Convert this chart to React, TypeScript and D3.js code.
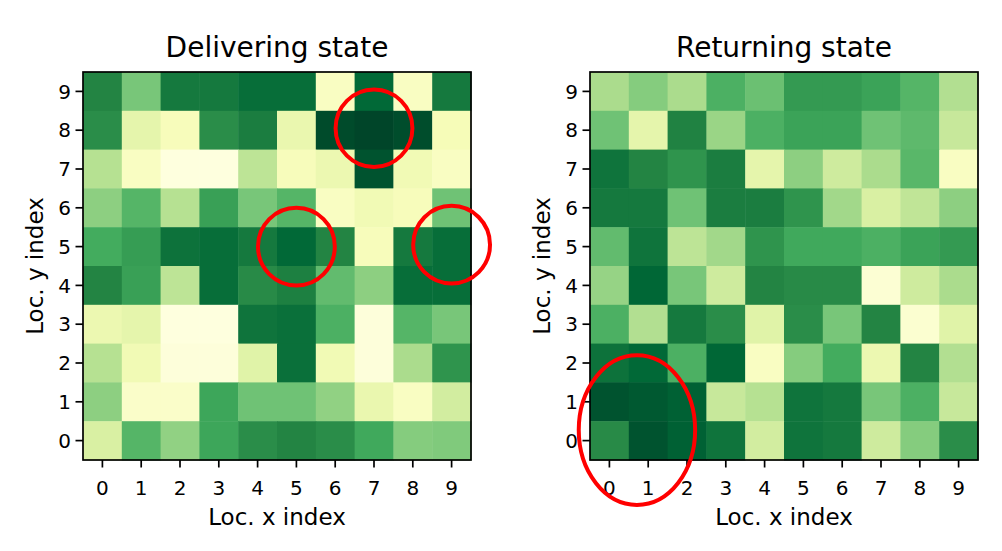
import React from "react";
import * as d3 from "d3";

const xIndex = [0, 1, 2, 3, 4, 5, 6, 7, 8, 9];
const yIndex = [0, 1, 2, 3, 4, 5, 6, 7, 8, 9];

// rows listed from y=9 (top) to y=0 (bottom); columns x=0..9
const deliveringRows = [
  [0.75, 0.5, 0.8, 0.8, 0.85, 0.85, 0.1, 0.87, 0.1, 0.8],
  [0.72, 0.2, 0.12, 0.72, 0.78, 0.18, 0.98, 1.0, 0.97, 0.13],
  [0.35, 0.1, 0.02, 0.02, 0.33, 0.12, 0.17, 0.95, 0.15, 0.1],
  [0.45, 0.58, 0.35, 0.66, 0.5, 0.58, 0.1, 0.15, 0.12, 0.52],
  [0.62, 0.67, 0.83, 0.85, 0.8, 0.87, 0.75, 0.12, 0.8, 0.85],
  [0.75, 0.66, 0.33, 0.85, 0.73, 0.77, 0.55, 0.45, 0.85, 0.85],
  [0.17, 0.2, 0.02, 0.02, 0.82, 0.84, 0.6, 0.03, 0.58, 0.5],
  [0.35, 0.15, 0.03, 0.03, 0.22, 0.84, 0.15, 0.03, 0.38, 0.7],
  [0.45, 0.08, 0.08, 0.64, 0.52, 0.52, 0.44, 0.18, 0.1, 0.27],
  [0.25, 0.58, 0.44, 0.64, 0.72, 0.75, 0.72, 0.63, 0.47, 0.48],
];

const returningRows = [
  [0.38, 0.47, 0.38, 0.6, 0.53, 0.68, 0.68, 0.65, 0.58, 0.36],
  [0.52, 0.2, 0.76, 0.42, 0.6, 0.65, 0.65, 0.52, 0.56, 0.3],
  [0.82, 0.75, 0.7, 0.78, 0.2, 0.45, 0.28, 0.38, 0.57, 0.1],
  [0.8, 0.8, 0.52, 0.78, 0.78, 0.7, 0.4, 0.25, 0.32, 0.45],
  [0.55, 0.82, 0.33, 0.4, 0.7, 0.63, 0.63, 0.6, 0.65, 0.68],
  [0.43, 0.88, 0.5, 0.28, 0.75, 0.73, 0.73, 0.05, 0.28, 0.38],
  [0.6, 0.36, 0.8, 0.72, 0.22, 0.72, 0.5, 0.75, 0.06, 0.22],
  [0.83, 0.87, 0.6, 0.88, 0.1, 0.47, 0.62, 0.17, 0.75, 0.36],
  [0.95, 0.93, 0.9, 0.3, 0.35, 0.82, 0.8, 0.5, 0.6, 0.3],
  [0.73, 0.95, 0.9, 0.82, 0.27, 0.82, 0.8, 0.28, 0.47, 0.72],
];

// highlighted locations (data coords: x index, y index, radius in cells x, y)
const deliveringMarks = [
  { x: 7, y: 8.05, rx: 0.99, ry: 1.0 },
  { x: 5, y: 5, rx: 0.99, ry: 1.0 },
  { x: 9, y: 5.05, rx: 0.99, ry: 1.0 },
];
const returningMarks = [{ x: 0.71, y: 0.27, rx: 1.5, ry: 1.93 }];

const titles = ["Delivering state", "Returning state"];

const ylgnStops = [
  "#ffffe5", "#f7fcb9", "#d9f0a3", "#addd8e", "#78c679",
  "#41ab5d", "#238443", "#006837", "#004529",
];

const FONT = "DejaVu Sans, sans-serif";

const color = d3
  .scaleLinear<string>()
  .domain(d3.range(ylgnStops.length).map((i) => i / (ylgnStops.length - 1)))
  .range(ylgnStops)
  .interpolate(d3.interpolateRgb)
  .clamp(true);

type Mark = { x: number; y: number; rx: number; ry: number };

function Panel({
  left,
  title,
  rows,
  marks,
}: {
  left: number;
  title: string;
  rows: number[][];
  marks: Mark[];
}) {
  const top = 72;
  const size = 388;
  const x = d3.scaleBand<number>().domain(xIndex).range([left, left + size]);
  const y = d3
    .scaleBand<number>()
    .domain([...yIndex].reverse())
    .range([top, top + size]);
  const xc = d3.scaleLinear().domain([-0.5, 9.5]).range([left, left + size]);
  const yc = d3.scaleLinear().domain([-0.5, 9.5]).range([top + size, top]);
  const cell = x.bandwidth();
  const cx = left + size / 2;
  return (
    <g>
      {rows.map((row, ri) =>
        row.map((v, xi) => {
          const yi = 9 - ri;
          return (
            <rect
              key={`${ri}-${xi}`}
              x={x(xi)}
              y={y(yi)}
              width={cell + 0.5}
              height={cell + 0.5}
              fill={color(v)}
            />
          );
        })
      )}
      <rect
        x={left}
        y={top}
        width={size}
        height={size}
        fill="none"
        stroke="#000"
        strokeWidth={1.7}
      />
      {xIndex.map((t) => (
        <g key={`xt${t}`}>
          <line
            x1={x(t)! + cell / 2}
            x2={x(t)! + cell / 2}
            y1={top + size}
            y2={top + size + 7.5}
            stroke="#000"
            strokeWidth={1.7}
          />
          <text
            x={x(t)! + cell / 2}
            y={495}
            textAnchor="middle"
            fontFamily={FONT}
            fontSize={20}
            fill="#000"
          >
            {t}
          </text>
        </g>
      ))}
      {yIndex.map((t) => (
        <g key={`yt${t}`}>
          <line
            x1={left - 7.5}
            x2={left}
            y1={y(t)! + cell / 2}
            y2={y(t)! + cell / 2}
            stroke="#000"
            strokeWidth={1.7}
          />
          <text
            x={left - 12}
            y={y(t)! + cell / 2}
            dy="0.36em"
            textAnchor="end"
            fontFamily={FONT}
            fontSize={20}
            fill="#000"
          >
            {t}
          </text>
        </g>
      ))}
      <text
        x={cx}
        y={57}
        textAnchor="middle"
        fontFamily={FONT}
        fontSize={28}
        fill="#000"
      >
        {title}
      </text>
      <text
        x={cx}
        y={525}
        textAnchor="middle"
        fontFamily={FONT}
        fontSize={23}
        fill="#000"
      >
        Loc. x index
      </text>
      <text
        transform={`translate(${left - 40},${top + size / 2}) rotate(-90)`}
        textAnchor="middle"
        fontFamily={FONT}
        fontSize={23}
        fill="#000"
      >
        Loc. y index
      </text>
      {marks.map((m, i) => (
        <ellipse
          key={`m${i}`}
          cx={xc(m.x)}
          cy={yc(m.y)}
          rx={xc(m.rx) - xc(0)}
          ry={yc(0) - yc(m.ry)}
          fill="none"
          stroke="#ff0000"
          strokeWidth={4}
        />
      ))}
    </g>
  );
}

export default function App() {
  return (
    <svg
      width={1002}
      height={551}
      viewBox="0 0 1002 551"
      style={{ position: "absolute", left: 0, top: 0, background: "#fff" }}
    >
      <rect width={1002} height={551} fill="#fff" />
      <Panel left={83} title={titles[0]} rows={deliveringRows} marks={deliveringMarks} />
      <Panel left={590} title={titles[1]} rows={returningRows} marks={returningMarks} />
    </svg>
  );
}
